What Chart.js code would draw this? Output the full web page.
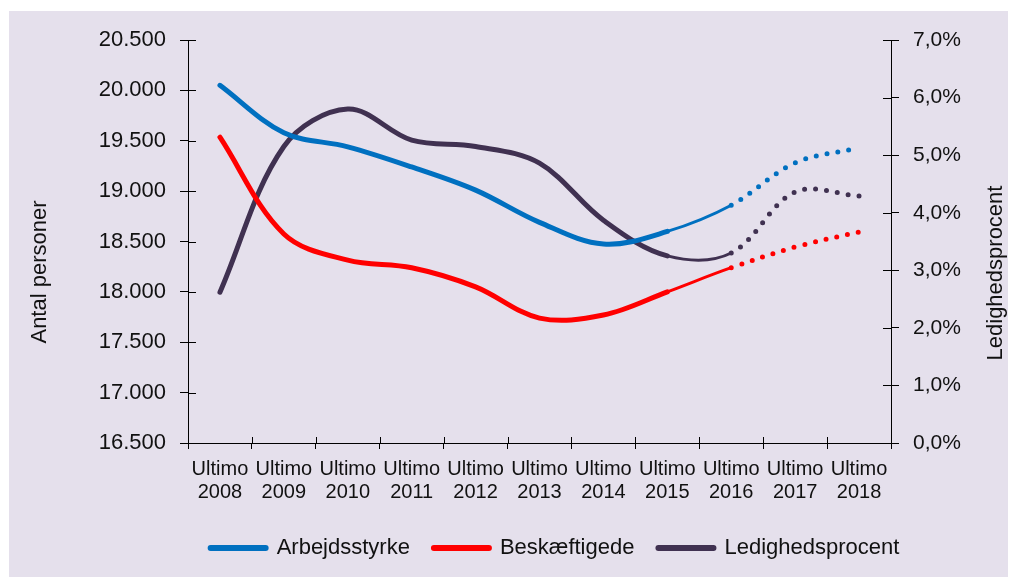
<!DOCTYPE html>
<html>
<head>
<meta charset="utf-8">
<script src="https://cdn.jsdelivr.net/npm/chart.js@4.4.1/dist/chart.umd.min.js"></script>
<style>
  html, body { margin: 0; padding: 0; background: #fff; }
  #wrap { width: 1016px; height: 577px; }
</style>
</head>
<body>
<div id="wrap"><canvas id="myLineChart" width="1016" height="577"></canvas></div>
<script>
// Data
const years = ['2008', '2009', '2010', '2011', '2012', '2013', '2014', '2015', '2016', '2017', '2018'];
const arbejdsstyrke = [20050, 19580, 19440, 19240, 19010, 18690, 18475, 18600, 18860, 19280, 19430];
const beskaeftigede = [19535, 18575, 18315, 18240, 18050, 17740, 17770, 18000, 18240, 18445, 18595];
const ledighedsprocent = [2.62, 5.15, 5.8, 5.26, 5.15, 4.86, 3.87, 3.25, 3.3, 4.36, 4.29];

const FONT = "'Liberation Sans', Arial, sans-serif";

// segment style: thin line 2015-2016, dotted after 2016 (forecast)
function segWidth(ctx) {
    return ctx.p0DataIndex === 7 ? 3 : undefined;
}
function segDash(ctx) {
    return ctx.p0DataIndex >= 8 ? [0, 11] : undefined;
}

function fmtThousands(v) {
    const t = Math.floor(v / 1000);
    const r = String(Math.round(v % 1000)).padStart(3, '0');
    return t + '.' + r;
}

// lavender plot background
const bgPlugin = {
    id: 'bg',
    beforeDraw(chart) {
        const c = chart.ctx;
        c.save();
        c.fillStyle = '#e5e0ec';
        c.fillRect(9, 11, 999, 566);
        c.restore();
    }
};

// move legend into place
const legendPos = {
    id: 'legendPos',
    afterLayout(chart) {
        const lg = chart.legend;
        const h = lg.height;
        lg.top = 548 - 11 - 24;
        lg.bottom = lg.top + h;
        lg.left += 47;
        lg.right += 47;
    }
};

// axis titles (both read bottom to top) and inward halves of tick marks
const extras = {
    id: 'extras',
    afterDraw(chart) {
        const c = chart.ctx;
        const a = chart.chartArea;
        c.save();
        c.strokeStyle = '#000';
        c.lineWidth = 1;
        c.beginPath();
        chart.scales.y.ticks.forEach(t => {
            const py = Math.round(chart.scales.y.getPixelForValue(t.value)) + 0.5;
            c.moveTo(a.left, py); c.lineTo(a.left + 8, py);
        });
        chart.scales.y1.ticks.forEach(t => {
            const py = Math.round(chart.scales.y1.getPixelForValue(t.value)) + 0.5;
            c.moveTo(a.right - 8, py); c.lineTo(a.right, py);
        });
        const n = years.length;
        for (let i = 0; i <= n; i++) {
            const px = Math.round(a.left + i * (a.right - a.left) / n) + 0.5;
            c.moveTo(px, a.bottom - 6); c.lineTo(px, a.bottom);
        }
        c.stroke();

        c.fillStyle = '#111';
        c.font = '22px ' + FONT;
        c.textAlign = 'center';
        c.textBaseline = 'middle';
        c.translate(40, 272);
        c.rotate(-Math.PI / 2);
        c.fillText('Antal personer', 0, 0);
        c.setTransform(1, 0, 0, 1, 0, 0);
        c.translate(996, 273);
        c.rotate(-Math.PI / 2);
        c.fillText('Ledighedsprocent', 0, 0);
        c.restore();
    }
};

var ctx = document.getElementById('myLineChart').getContext('2d');

var myLineChart = new Chart(ctx, {
    type: 'line',
    data: {
        labels: years.map(y => ['Ultimo', y]),
        datasets: [{
            label: 'Arbejdsstyrke',
            data: arbejdsstyrke,
            borderColor: '#0070c0',
            backgroundColor: '#0070c0',
            yAxisID: 'y'
        }, {
            label: 'Beskæftigede',
            data: beskaeftigede,
            borderColor: '#ff0000',
            backgroundColor: '#ff0000',
            yAxisID: 'y'
        }, {
            label: 'Ledighedsprocent',
            data: ledighedsprocent,
            borderColor: '#403151',
            backgroundColor: '#403151',
            yAxisID: 'y1'
        }]
    },
    options: {
        responsive: false,
        animation: false,
        devicePixelRatio: 1,
        layout: { padding: { top: 40, bottom: 0, left: 0, right: 0 } },
        elements: {
            line: {
                borderWidth: 5,
                tension: 0.35,
                borderCapStyle: 'round',
                borderJoinStyle: 'round',
                fill: false
            },
            point: { radius: 0, hoverRadius: 0 }
        },
        datasets: {
            line: {
                segment: { borderWidth: segWidth, borderDash: segDash }
            }
        },
        scales: {
            x: {
                offset: true,
                afterFit: function (scale) {
                    scale.height = 577 - 443 - scale.chart.legend.height;
                },
                border: { color: '#000', width: 1 },
                grid: { display: true, drawOnChartArea: false, color: '#000', tickLength: 6, offset: true },
                ticks: {
                    color: '#111',
                    padding: 9,
                    maxRotation: 0,
                    autoSkip: false,
                    font: { family: FONT, size: 20, lineHeight: 1.15 }
                }
            },
            y: {
                position: 'left',
                min: 16500,
                max: 20500,
                afterFit: function (scale) { scale.width = 188; },
                border: { color: '#000', width: 1 },
                grid: { drawOnChartArea: false, color: '#000', tickLength: 8 },
                ticks: {
                    stepSize: 500,
                    color: '#111',
                    padding: 14,
                    font: { family: FONT, size: 22 },
                    callback: v => fmtThousands(v)
                }
            },
            y1: {
                position: 'right',
                min: 0,
                max: 7,
                afterFit: function (scale) { scale.width = 1016 - 891; },
                border: { color: '#000', width: 1 },
                grid: { drawOnChartArea: false, color: '#000', tickLength: 8 },
                ticks: {
                    stepSize: 1,
                    color: '#111',
                    padding: 14,
                    font: { family: FONT, size: 21 },
                    callback: v => v.toFixed(1).replace('.', ',') + '%'
                }
            }
        },
        plugins: {
            legend: {
                position: 'bottom',
                labels: {
                    usePointStyle: true,
                    pointStyle: 'line',
                    pointStyleWidth: 55,
                    padding: 24,
                    color: '#111',
                    font: { family: FONT, size: 22 },
                    generateLabels: function (chart) {
                        const items = Chart.defaults.plugins.legend.labels.generateLabels(chart);
                        items.forEach(it => {
                            it.lineWidth = 6;
                            it.lineCap = 'round';
                            it.strokeStyle = chart.data.datasets[it.datasetIndex].borderColor;
                        });
                        return items;
                    }
                }
            },
            tooltip: { enabled: false }
        }
    },
    plugins: [bgPlugin, legendPos, extras]
});
</script>
</body>
</html>
